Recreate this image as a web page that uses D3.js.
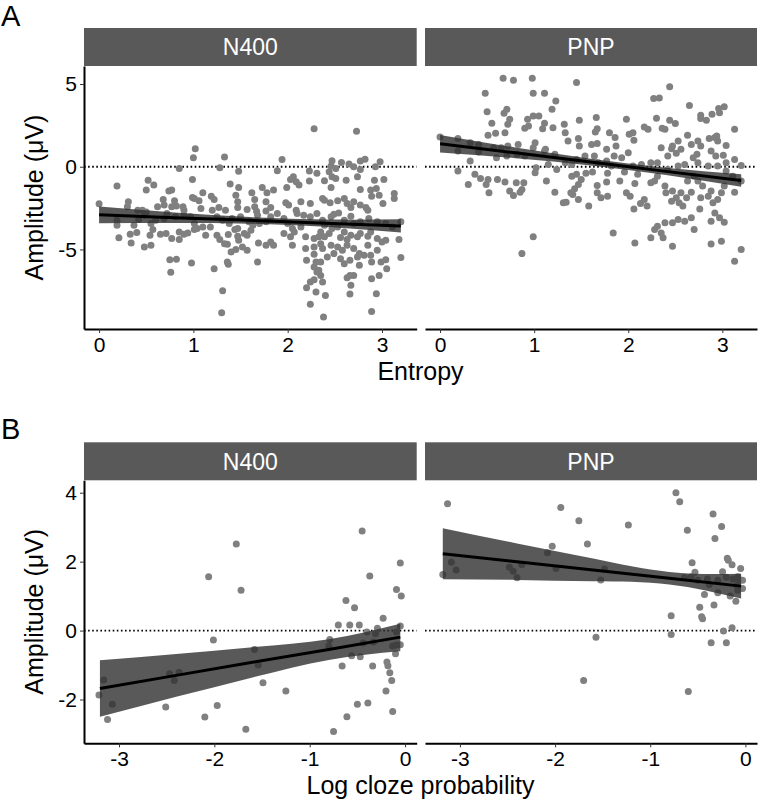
<!DOCTYPE html>
<html><head><meta charset="utf-8">
<script src="https://cdn.jsdelivr.net/npm/d3@7"></script>
<style>
body{margin:0;background:#fff}
svg{display:block}
text{font-family:"Liberation Sans",Arial,Helvetica,sans-serif}
</style>
</head><body>
<svg id="chart" width="760" height="802"></svg>
<script>
// ---------------- DATA ----------------
const facetNames = ["N400", "PNP"];
const panelLetters = ["A", "B"];
const xTitles = ["Entropy", "Log cloze probability"];
const yTitle = "Amplitude (\u03BCV)";
const xTicksA = [0, 1, 2, 3];
const yTicksA = [-5, 0, 5];
const xTicksB = [-3, -2, -1, 0];
const yTicksB = [-2, 0, 2, 4];

// Panel A: entropy vs amplitude, N400
const entropyN400 = [
[2.28,2.30],[2.73,2.14],[1.02,1.09],[1.00,0.55],[1.33,0.59],[1.94,0.44],[2.47,0.36],[2.57,0.26],[2.65,0.16],[2.82,0.46],[2.77,0.34],[2.98,0.30],[0.85,-0.10],[1.28,-0.06],[1.48,-0.28],[1.89,-0.24],[2.23,-0.26],[2.31,-0.40],[2.46,0.04],[2.51,-0.10],[2.44,-0.30],[2.70,0.00],[2.77,-0.16],[2.93,0.00],
[0.19,-1.17],[0.52,-0.81],[0.58,-1.11],[0.50,-1.41],[0.99,-0.77],[0.77,-1.41],[0.74,-1.47],[1.10,-1.58],[1.19,-1.78],[1.39,-1.05],[1.48,-1.25],[1.45,-1.72],[1.62,-1.58],[1.65,-1.98],[1.73,-1.25],[1.78,-1.58],[1.85,-1.41],[1.99,-1.25],[2.03,-0.77],[2.06,-0.61],[2.09,-0.91],[2.12,-1.11],[2.23,-0.87],[2.39,-0.85],[2.47,-0.61],[2.51,-0.71],[2.62,-0.81],[2.74,-0.61],[2.92,-0.81],[3.02,-0.77],[2.46,-1.25],[2.77,-1.37],[2.88,-1.41],[2.94,-1.31],[2.97,-1.72],[2.89,-1.78],[3.13,-1.62],[3.13,-1.92],
[0.00,-2.24],[0.31,-2.12],[0.30,-2.42],[0.41,-2.63],[0.46,-2.63],[0.50,-2.73],[0.62,-2.42],[0.68,-1.98],[0.69,-2.32],[0.77,-2.42],[0.80,-2.06],[0.82,-2.38],[0.89,-2.42],[0.90,-2.63],[0.99,-1.86],[1.01,-1.92],[1.06,-2.06],[1.08,-2.53],[1.22,-1.98],[1.20,-2.63],[1.27,-2.46],[1.34,-2.63],[1.47,-2.46],[1.47,-2.12],[1.57,-2.59],[1.65,-2.42],[1.67,-2.69],[1.77,-2.12],[1.77,-2.67],[1.82,-2.46],[1.98,-2.18],[2.01,-2.32],[2.09,-2.63],[2.14,-2.12],[2.24,-2.22],[2.37,-1.92],[2.39,-2.02],[2.45,-2.18],[2.53,-2.06],[2.60,-1.92],[2.63,-2.22],[2.67,-2.46],[2.70,-2.12],[2.77,-2.32],[2.83,-2.46],[2.85,-2.63],[3.01,-2.22],
[0.19,-3.23],[0.19,-3.54],[0.37,-3.54],[0.42,-3.19],[0.48,-2.93],[0.55,-3.43],[0.60,-3.23],[0.69,-3.13],[0.72,-2.83],[0.81,-3.03],[0.90,-2.93],[0.97,-3.03],[1.01,-3.43],[1.04,-3.74],[1.10,-3.64],[1.13,-4.14],[1.18,-3.64],[1.25,-3.03],[1.31,-3.23],[1.38,-3.43],[1.41,-3.13],[1.47,-3.74],[1.50,-3.03],[1.59,-3.33],[1.63,-3.54],[1.68,-2.93],[1.70,-3.43],[1.77,-3.33],[1.82,-3.03],[1.89,-2.83],[1.96,-3.13],[2.00,-3.43],[2.05,-3.74],[2.10,-2.83],[2.17,-2.93],[2.24,-3.03],[2.31,-2.83],[2.37,-3.23],[2.39,-3.54],[2.46,-3.03],[2.49,-2.87],[2.54,-2.79],[2.60,-3.23],[2.67,-2.99],[2.70,-3.43],[2.77,-3.33],[2.86,-3.13],[2.95,-3.33],[3.04,-3.43],[3.11,-3.64],[3.20,-3.33],
[0.21,-4.30],[0.33,-4.08],[0.34,-4.61],[0.40,-3.98],[0.48,-4.85],[0.55,-4.75],[0.54,-4.14],[0.57,-3.80],[0.65,-4.08],[0.71,-4.04],[0.77,-4.34],[0.85,-4.40],[0.85,-3.94],[0.90,-4.08],[0.94,-4.00],[1.01,-3.80],[1.25,-4.14],[1.28,-4.40],[1.36,-4.69],[1.37,-4.10],[1.44,-3.80],[1.47,-4.20],[1.48,-4.44],[1.54,-4.04],[1.57,-4.14],[1.61,-3.84],[1.69,-4.61],[1.77,-4.75],[1.82,-4.55],[1.85,-4.75],[1.96,-4.04],[2.03,-4.24],[2.05,-4.75],[2.07,-3.94],[2.14,-3.64],[2.19,-4.24],[2.28,-4.34],[2.33,-4.24],[2.35,-3.94],[2.39,-4.24],[2.44,-4.04],[2.47,-3.74],[2.53,-3.64],[2.56,-4.28],[2.60,-3.94],[2.63,-4.40],[2.67,-4.14],[2.74,-4.24],[2.77,-4.04],[2.85,-4.20],[2.88,-3.94],[2.95,-4.34],[3.00,-4.55],[3.04,-4.44],[3.18,-4.40],
[2.19,-4.95],[2.28,-4.85],[2.35,-4.65],[2.37,-4.95],[2.46,-4.75],[2.53,-4.85],[2.58,-5.05],[2.63,-4.75],[2.70,-4.95],[2.76,-5.25],[2.85,-4.75],[2.95,-5.05],[2.81,-5.35],[2.88,-5.35],[1.33,-4.65],[1.40,-5.15],[1.45,-5.01],[1.52,-4.85],[1.57,-5.05],
[0.75,-5.62],[0.82,-5.60],[0.76,-6.38],[0.98,-5.82],[1.22,-6.16],[1.36,-5.76],[1.37,-5.90],[1.68,-5.76],[2.20,-5.66],[2.28,-5.29],[2.30,-5.76],[2.35,-5.76],[2.42,-5.45],[2.49,-5.25],[2.56,-5.56],[2.60,-5.86],[2.66,-5.66],[2.74,-5.45],[2.76,-5.96],[2.89,-5.76],[2.99,-5.76],[3.04,-5.62],[3.05,-6.16],[3.20,-5.49],
[2.28,-6.06],[2.31,-6.36],[2.35,-6.57],[2.37,-6.97],[2.24,-6.97],[2.20,-7.31],[2.28,-6.83],[2.33,-6.26],[2.66,-6.57],[2.63,-6.71],[2.70,-6.57],[2.67,-7.17],[2.89,-6.77],[2.97,-6.57],[2.24,-8.32],[2.30,-7.58],[2.40,-7.78],[2.66,-7.70],[2.94,-7.68],[2.89,-8.75],[2.38,-9.09],[1.31,-7.49],[1.30,-8.83]
];

// Panel A: entropy vs amplitude, PNP
const entropyPNP = [
[0.67,5.35],[0.78,5.23],[0.98,5.35],[1.45,5.09],[0.48,4.44],[0.99,4.44],[1.11,4.44],[1.23,3.98],[2.44,4.83],[2.27,4.12],[2.33,4.16],[2.65,3.70],[0.50,3.33],[0.71,3.47],[0.68,3.23],[1.19,3.47],[0.99,3.07],[1.05,3.07],[0.93,2.87],[0.90,2.32],[0.74,2.87],[0.72,2.57],[0.55,2.63],[1.11,2.63],[0.94,2.46],[1.09,2.30],[1.20,2.36],[0.69,2.06],[0.59,2.02],[0.51,1.90],[0.19,1.70],[0.00,1.80],[0.32,1.45],[0.41,1.35],[0.57,1.15],[0.65,1.15],[0.72,1.25],[0.83,1.35],[1.01,1.45],[0.99,1.15],[1.12,1.05],[1.32,2.57],[1.48,2.81],[1.66,2.97],[1.98,2.87],[2.30,2.93],[2.44,2.81],[2.50,2.61],[2.77,3.11],[2.77,2.91],[2.83,2.81],[2.89,3.17],[2.97,3.27],[2.96,3.52],[3.02,3.62],[3.13,2.26],[1.67,2.30],[1.65,2.10],[1.80,2.06],[1.33,2.06],[1.36,1.56],[1.47,1.70],[1.48,1.25],[1.61,1.35],[1.67,1.41],[1.77,1.05],[1.86,1.76],[1.87,1.25],[1.85,0.65],[2.01,1.96],[2.05,2.06],[2.00,0.85],[2.06,1.60],[2.17,2.40],[2.21,2.26],[2.36,2.32],[2.39,2.26],[2.63,1.90],[2.53,1.56],[2.47,1.25],[2.51,0.81],[2.46,1.09],[2.56,1.05],[2.42,0.65],[2.35,1.15],[2.67,1.35],[2.74,1.56],[2.77,1.25],[2.86,1.70],[2.92,1.76],[2.94,1.86],[2.95,1.56],[3.04,1.29],[2.88,0.95],[3.01,0.69],[2.93,0.65],[3.13,0.44],[3.20,0.08],[3.13,-1.54],[3.04,-0.26],[2.95,0.04],[2.85,0.04],[2.74,0.24],[2.60,0.14],[2.31,0.24],[2.24,0.24],[2.14,0.14],[2.05,0.04],[1.93,0.55],[1.77,0.34],[1.64,0.65],[1.54,0.65],[1.45,0.44],[1.40,0.14],[1.33,0.24],[1.22,0.75],[1.11,0.95],[0.90,0.65],[0.82,0.75],[0.71,0.65],[0.60,0.55],[0.41,0.89],[0.32,0.34],[0.19,-0.26],[0.19,0.95],[0.30,-1.07],[0.37,-0.46],[0.43,-0.71],[0.51,-0.77],[0.49,-1.07],[0.61,-0.77],[0.69,-0.93],[0.52,-1.58],[0.74,-1.47],[0.78,-1.74],[0.81,-0.97],[0.87,-1.37],[0.89,-0.97],[0.85,-1.54],[1.02,-0.06],[1.01,-0.36],[1.13,-0.87],[1.22,-1.54],[1.31,-2.18],[1.34,-2.14],[1.39,-1.58],[1.40,-0.57],[1.45,-0.46],[1.47,-1.07],[1.43,-1.33],[1.41,-1.68],[1.47,-1.98],[1.55,-0.40],[1.62,-0.32],[1.50,-0.77],[1.58,-2.38],[1.67,-1.13],[1.67,-1.58],[1.71,-1.88],[1.78,-1.78],[1.77,-0.93],[1.78,-0.40],[1.91,-0.87],[1.96,-0.32],[1.98,-1.58],[2.02,-1.78],[2.07,-1.01],[2.06,-2.55],[2.13,-2.22],[2.17,-1.98],[2.20,-2.38],[2.10,-0.46],[2.24,-0.97],[2.28,-0.87],[2.31,-0.57],[2.39,-1.17],[2.40,-1.58],[2.47,-1.47],[2.46,-2.08],[2.51,-1.88],[2.56,-1.58],[2.54,-2.18],[2.58,-2.38],[2.62,-1.88],[2.67,-1.54],[2.63,-0.87],[2.70,-0.57],[2.74,-0.87],[2.79,-1.17],[2.77,-1.88],[2.85,-1.78],[2.88,-1.47],[2.90,-2.18],[2.95,-1.98],[2.99,-1.58],[3.02,-1.17],[2.92,-2.79],[2.97,-3.09],[3.02,-3.35],[2.88,-3.29],[2.76,-2.55],[2.67,-3.09],[2.70,-3.80],[2.60,-3.29],[2.53,-3.19],[2.47,-3.39],[2.39,-3.39],[2.31,-3.60],[2.28,-3.80],[2.35,-4.00],[2.37,-4.30],[2.24,-4.30],[2.47,-4.81],[2.07,-4.61],[1.84,-4.00],[2.88,-4.67],[2.99,-4.51],[3.20,-5.01],[3.13,-5.72],[0.99,-4.24],[0.87,-5.25],[3.04,0.24],[3.11,-0.57],[3.20,-0.87],[2.73,0.75],[2.69,0.55],[2.53,0.04],[2.42,-0.16],[1.82,0.04],[1.68,0.24],[1.24,-0.16],[1.15,0.14]
];

// Panel B: log cloze probability vs amplitude
const clozeN400 = [
[-0.45,2.89],[-1.77,2.51],[-0.05,1.96],[-2.06,1.56],[-0.37,1.58],[-1.72,1.17],[-0.09,1.19],[-0.04,1.00],[-0.62,0.87],[-0.53,0.66],[-0.23,0.36],[-0.70,0.16],[-0.58,0.16],[-0.48,0.16],[-0.29,0.07],[-0.40,-0.04],[-0.31,-0.09],[-0.05,0.13],[-0.09,-0.04],[-0.79,-0.26],[-2.01,-0.27],[-0.80,-0.45],[-0.44,-0.36],[-0.33,-0.33],[-0.05,-0.41],[-0.13,-0.45],[-0.09,-0.42],[-0.10,-0.67],[-1.58,-0.55],[-0.56,-0.73],[-0.47,-0.76],[-1.54,-1.00],[-0.66,-1.03],[-0.34,-1.03],[-0.19,-0.91],[-0.18,-1.02],[-0.16,-1.22],[-2.47,-1.25],[-2.37,-1.21],[-2.42,-1.45],[-0.14,-1.45],[-3.16,-1.43],[-3.21,-1.87],[-1.49,-1.51],[-1.25,-1.75],[-0.20,-1.75],[-3.07,-2.14],[-2.51,-2.22],[-1.97,-2.17],[-0.50,-2.14],[-0.39,-2.10],[-0.13,-2.35],[-3.12,-2.58],[-2.10,-2.51],[-0.61,-2.50],[-1.67,-2.86],[-0.75,-2.93]
];
const clozePNP = [
[-0.73,4.00],[-0.69,3.74],[-3.13,3.68],[-1.94,3.57],[-0.34,3.38],[-1.75,3.19],[-0.25,3.02],[-1.23,3.06],[-0.61,2.91],[-0.32,2.67],[-1.66,2.51],[-2.03,2.45],[-2.08,2.26],[-0.19,2.10],[-0.18,2.04],[-0.56,1.97],[-0.14,1.91],[-3.09,1.98],[-3.04,1.76],[-3.18,1.63],[-2.48,1.84],[-2.44,1.72],[-2.40,1.53],[-2.35,1.92],[-1.99,1.80],[-1.48,1.79],[-1.52,1.47],[-0.05,1.80],[-0.24,1.71],[-0.53,1.69],[-0.64,1.54],[-0.57,1.56],[-0.50,1.46],[-0.40,1.50],[-0.29,1.46],[-0.20,1.55],[-0.13,1.50],[-0.08,1.56],[-0.03,1.46],[-0.09,1.31],[-0.03,1.22],[-0.38,1.34],[-0.29,1.10],[-0.43,1.05],[-0.16,1.00],[-0.10,0.85],[-0.33,0.74],[-0.48,0.68],[-0.46,0.40],[-0.45,0.34],[-0.78,0.43],[-0.14,0.08],[-0.23,-0.01],[-0.78,-0.11],[-1.57,-0.19],[-0.36,-0.35],[-0.20,-0.35],[-1.70,-1.45],[-0.60,-1.77],[-0.08,1.17],[-0.06,1.46]
];

// Fitted regression lines with 95% confidence bands
const fitXA = [0, 0.8, 1.6, 2.4, 3.2];
const fitN400A = [-2.91, -3.08, -3.24, -3.41, -3.58];
const loN400A  = [-3.41, -3.40, -3.44, -3.63, -3.98];
const hiN400A  = [-2.41, -2.76, -3.04, -3.19, -3.18];
const fitPNPA = [1.39, 0.84, 0.28, -0.28, -0.83];
const loPNPA  = [0.86, 0.52, 0.08, -0.50, -1.21];
const hiPNPA  = [1.92, 1.16, 0.48, -0.06, -0.45];

const fitXBN400 = [-3.2, -2.4, -1.6, -0.8, -0.05];
const fitN400B = [-1.68, -1.30, -0.92, -0.55, -0.19];
const loN400B  = [-2.50, -1.92, -1.36, -0.85, -0.60];
const hiN400B  = [-0.86, -0.68, -0.48, -0.25, 0.20];
const fitXBPNP = [-3.18, -2.4, -1.6, -0.8, -0.045];
const fitPNPB = [2.23, 2.00, 1.76, 1.52, 1.29];
const loPNPB  = [1.49, 1.47, 1.43, 1.34, 0.93];
const hiPNPB  = [2.97, 2.53, 2.09, 1.70, 1.65];

// Scale domains (x and y, shared across facets)
const xDomainA = [-0.16, 3.368];
const yDomainA = [-9.81, 6.09];
const xDomainB = [-3.367, 0.122];
const yDomainB = [-3.27, 4.36];

// ---------------- DRAW ----------------
const svg = d3.select("#chart");
const facetX = [[84, 416.7], [425, 757]];
const stripH = 38;
const POINT = "#808080";
const FONT = '"Liberation Sans",Arial,sans-serif';

function band(xs, f, lo, hi){ return xs.map((x,i)=>({x, f:f[i], lo:lo[i], hi:hi[i]})); }

const panels = [
  {letter: panelLetters[0], letterY: 26, stripTop: 28, plotTop: 66, plotBottom: 329,
   xDom: xDomainA, yDom: yDomainA, xTicks: xTicksA, yTicks: yTicksA, xTitle: xTitles[0], xTitleY: 380,
   data: [entropyN400, entropyPNP],
   fits: [band(fitXA, fitN400A, loN400A, hiN400A), band(fitXA, fitPNPA, loPNPA, hiPNPA)]},
  {letter: panelLetters[1], letterY: 438.5, stripTop: 442.3, plotTop: 480.3, plotBottom: 743.3,
   xDom: xDomainB, yDom: yDomainB, xTicks: xTicksB, yTicks: yTicksB, xTitle: xTitles[1], xTitleY: 794,
   data: [clozeN400, clozePNP],
   fits: [band(fitXBN400, fitN400B, loN400B, hiN400B), band(fitXBPNP, fitPNPB, loPNPB, hiPNPB)]}
];

const fmt = d => String(d).replace("\u2212","-");

panels.forEach(p => {
  const y = d3.scaleLinear().domain(p.yDom).range([p.plotBottom, p.plotTop]);
  svg.append("text").attr("x", 1).attr("y", p.letterY).attr("font-size", 29).attr("fill", "#000").text(p.letter);

  facetNames.forEach((name, fi) => {
    const [x0, x1] = facetX[fi];
    const x = d3.scaleLinear().domain(p.xDom).range([x0, x1]);
    svg.append("rect").attr("x", x0).attr("y", p.stripTop).attr("width", x1 - x0).attr("height", stripH).attr("fill", "#595959");
    svg.append("text").attr("x", (x0 + x1) / 2).attr("y", p.stripTop + stripH / 2 + 8.2)
      .attr("text-anchor", "middle").attr("font-size", 23).attr("fill", "#fff").text(name);

    const clipId = `clip-${p.letter}-${fi}`;
    svg.append("clipPath").attr("id", clipId).append("rect")
      .attr("x", x0).attr("y", p.plotTop).attr("width", x1 - x0).attr("height", p.plotBottom - p.plotTop);
    const g = svg.append("g").attr("clip-path", `url(#${clipId})`);

    g.append("line").attr("x1", x0).attr("x2", x1).attr("y1", y(0)).attr("y2", y(0))
      .attr("stroke", "#000").attr("stroke-width", 1.8).attr("stroke-dasharray", "1.6 2.5");

    g.selectAll("circle").data(p.data[fi]).join("circle")
      .attr("cx", d => x(d[0])).attr("cy", d => y(d[1])).attr("r", 3.5).attr("fill", POINT);

    const fit = p.fits[fi];
    g.append("path").datum(fit)
      .attr("d", d3.area().x(d => x(d.x)).y0(d => y(d.lo)).y1(d => y(d.hi)).curve(d3.curveNatural))
      .attr("fill", "#303030").attr("fill-opacity", 0.8);
    g.append("path").datum(fit)
      .attr("d", d3.line().x(d => x(d.x)).y(d => y(d.f)))
      .attr("fill", "none").attr("stroke", "#000").attr("stroke-width", 3);

    const xa = svg.append("g").attr("transform", `translate(0,${p.plotBottom})`)
      .call(d3.axisBottom(x).tickValues(p.xTicks).tickFormat(fmt).tickSizeInner(4).tickSizeOuter(0).tickPadding(4));
    xa.select(".domain").attr("stroke", "#000").attr("stroke-width", 2);
    xa.selectAll(".tick line").attr("stroke", "#333").attr("stroke-width", 1);
    xa.selectAll(".tick text").attr("font-size", 21).attr("fill", "#000").attr("font-family", FONT);

    if (fi === 0) {
      const ya = svg.append("g").attr("transform", `translate(${x0},0)`)
        .call(d3.axisLeft(y).tickValues(p.yTicks).tickFormat(fmt).tickSizeInner(4).tickSizeOuter(0).tickPadding(3));
      ya.select(".domain").attr("stroke", "#000").attr("stroke-width", 2);
      ya.selectAll(".tick line").attr("stroke", "#333").attr("stroke-width", 1);
      ya.selectAll(".tick text").attr("font-size", 21).attr("fill", "#000").attr("font-family", FONT);
    }
  });

  svg.append("text").attr("x", (facetX[0][0] + facetX[1][1]) / 2).attr("y", p.xTitleY)
    .attr("text-anchor", "middle").attr("font-size", 25).attr("fill", "#000").text(p.xTitle);
  svg.append("text").attr("transform", `translate(43,${(p.plotTop + p.plotBottom) / 2}) rotate(-90)`)
    .attr("text-anchor", "middle").attr("font-size", 25).attr("fill", "#000").text(yTitle);
});
</script>
</body></html>
